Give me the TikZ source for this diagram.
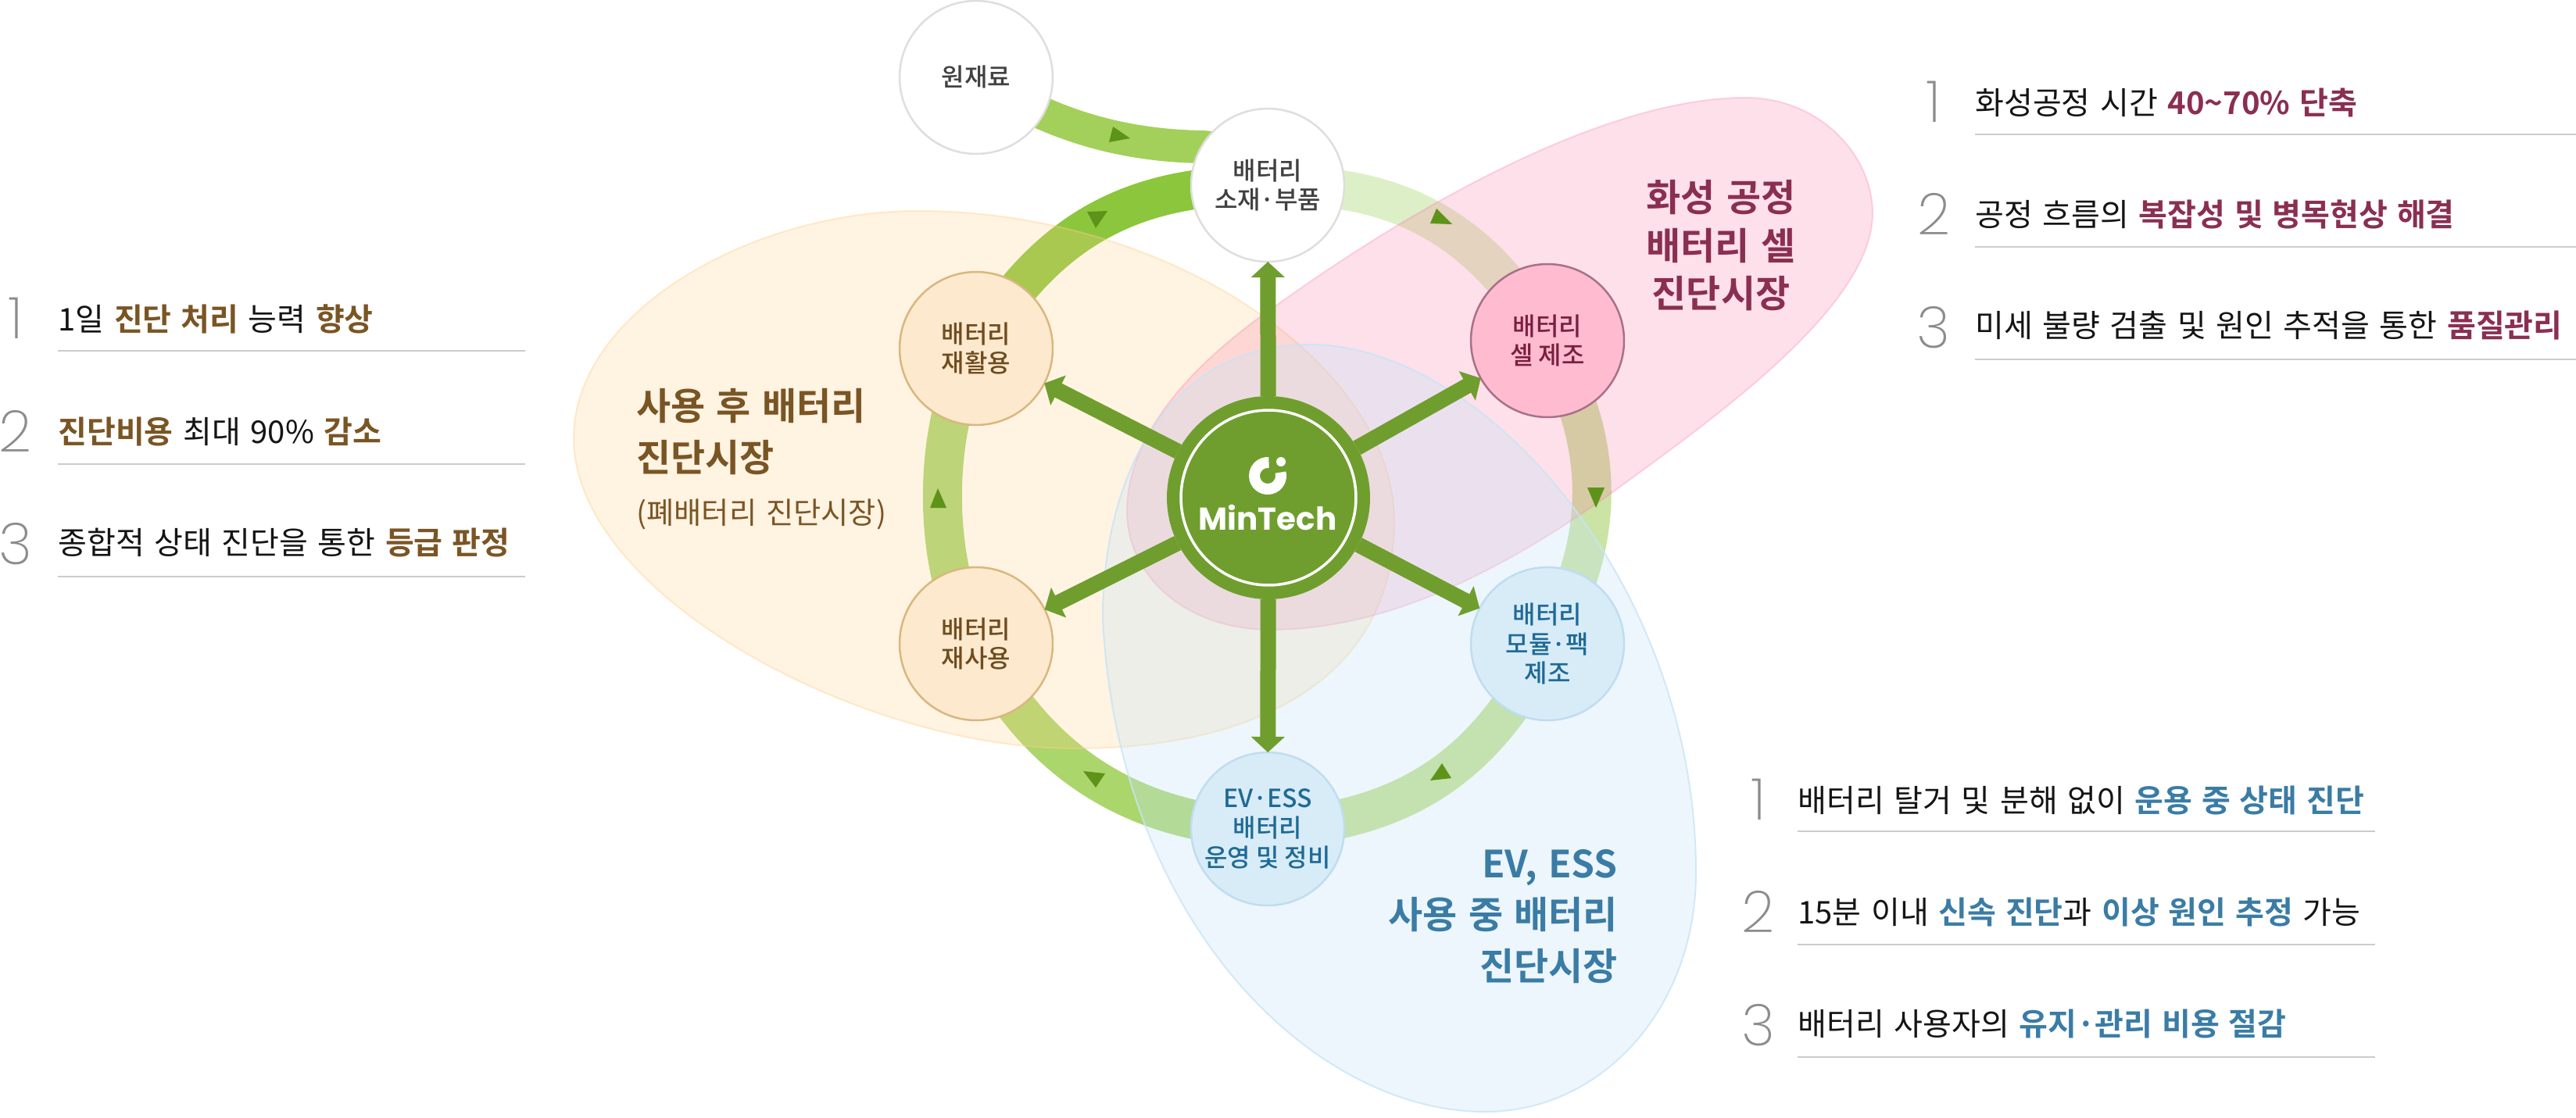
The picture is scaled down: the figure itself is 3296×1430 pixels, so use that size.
\documentclass[tikz,border=0pt]{standalone}
\usepackage{fontspec}
\usetikzlibrary{arrows.meta}
\setmainfont{Noto Sans CJK KR}
\newfontfamily\kreg{Noto Sans CJK KR}
\newfontfamily\kmed{Noto Sans CJK KR Medium}
\newfontfamily\khl{Noto Sans CJK KR Bold}
\newfontfamily\kbold[WordSpace=1.3]{Noto Sans CJK KR Bold}
\newfontfamily\ksub[WordSpace=1.4]{Noto Sans CJK KR}
\newfontfamily\numf{Poppins ExtraLight}
\newfontfamily\logof{Poppins}[BoldFont=* Bold]
\definecolor{cbrown}{HTML}{7A5524}
\definecolor{cmaroon}{HTML}{8A2F50}
\definecolor{cblue}{HTML}{3A7CA5}
\definecolor{cspoke}{HTML}{6F9E2E}
\definecolor{ctri}{HTML}{5E9319}
\newcommand\hb[1]{{\color{cbrown}\khl #1}}
\newcommand\hm[1]{{\color{cmaroon}\khl #1}}
\newcommand\hc[1]{{\color{cblue}\khl #1}}
\pgfdeclarelayer{ringl}
\pgfdeclarelayer{blobl}
\pgfsetlayers{ringl,blobl,main}
\definecolor{nOf}{HTML}{FDE9CE}\definecolor{nOd}{HTML}{D9B77F}
\definecolor{nPf}{HTML}{FFBCD0}\definecolor{nPd}{HTML}{A8708A}\definecolor{nPt}{HTML}{7A1F40}
\definecolor{nBf}{HTML}{D8ECF8}\definecolor{nBd}{HTML}{BFDDF0}\definecolor{nBt}{HTML}{1F6A96}
\definecolor{feedc}{HTML}{A3D05A}
\definecolor{rTL}{HTML}{8CC63C}\definecolor{rL}{HTML}{A7D774}\definecolor{rBL}{HTML}{ABD66B}
\definecolor{rBR}{HTML}{C2E28F}\definecolor{rR}{HTML}{CBE3A4}\definecolor{rTR}{HTML}{DDEFC6}
\definecolor{bO}{HTML}{FFCF8B}\definecolor{bP}{HTML}{F783AB}\definecolor{bB}{HTML}{C8E4F6}
\tikzset{
  hub/.style={circle,inner sep=0pt,outer sep=0pt,minimum size=3.92cm,line width=.05cm,align=center,
    font=\kmed\fontsize{18.2}{21.6}\selectfont},
  neutral/.style={hub,fill=white,draw=black!13,text=black!75},
  orangenode/.style={hub,fill=nOf,draw=nOd,text=cbrown!90!black},
  pinknode/.style={hub,fill=nPf,draw=nPd,text=nPt},
  bluenode/.style={hub,fill=nBf,draw=nBd,text=nBt},
  ringseg/.style={line width=1cm},
  feedseg/.style={line width=.84cm,color=feedc},
  blob/.style={line width=.04cm,fill opacity=.25,draw opacity=.4},
  spoke/.style={draw=cspoke,line width=.4cm,-{Triangle[width=.84cm,length=.4cm]}},
  tri/.style={fill=ctri},
  rowt/.style={anchor=base west,inner sep=0pt,text=black!92,font=\kreg\fontsize{22.8}{28}\selectfont},
  rule/.style={draw=black!20,line width=.05cm},
  numt/.style={anchor=base,inner sep=0pt,text=black!45,font=\numf\fontsize{42}{42}\selectfont},
  big/.style={inner sep=0pt,font=\kbold\fontsize{27.3}{33}\selectfont},
}
\begin{document}
\begin{tikzpicture}[x=0.02cm,y=-0.02cm]
\useasboundingbox (0,0) rectangle (3296,1430);
% nodes
\node[neutral] (raw) at (1249,99) {원재료};
\node[neutral] (mat) at (1622,237) {배터리\\소재·부품};
\node[orangenode] (rec) at (1249,446) {배터리\\재활용};
\node[orangenode] (reu) at (1249,824) {배터리\\재사용};
\node[pinknode] (cel) at (1980,436) {배터리\\셀 제조};
\node[bluenode] (mod) at (1980,824) {배터리\\모듈·팩\\제조};
\node[bluenode] (evs) at (1622,1061) {EV·ESS\\배터리\\운영 및 정비};
\node[circle,fill=cspoke,minimum size=5.2cm,inner sep=0pt,outer sep=0pt] (mt) at (1623,637) {};
\node[circle,draw=white,line width=.07cm,minimum size=4.48cm,inner sep=0pt] (mtring) at (mt) {};
% ring
\begin{pgfonlayer}{ringl}
\draw[feedseg] (raw.center) .. controls (1340,158) and (1430,186) .. (1537,188) .. controls (1570,189) and (1600,205) .. (mat.center);
\draw[ringseg,rTR] (mat.center) to[bend left=30,looseness=1.05] (cel.center);
\draw[ringseg,rR] (cel.center) to[bend left=30,looseness=1] (mod.center);
\draw[ringseg,rBR] (mod.center) to[bend left=30,looseness=1.05] (evs.center);
\draw[ringseg,rBL] (evs.center) to[bend left=30,looseness=1] (reu.center);
\draw[ringseg,rL] (reu.center) to[bend left=30,looseness=.78] (rec.center);
\draw[ringseg,rTL] (rec.center) to[bend left=30,looseness=1.05] (mat.center);
\end{pgfonlayer}
% blobs
\begin{pgfonlayer}{blobl}
\filldraw[blob,fill=bO,draw=bO] (734,561) .. controls (734,400) and (960,270) .. (1175,270)
 .. controls (1500,270) and (1784,470) .. (1784,667)
 .. controls (1784,860) and (1620,958) .. (1375,958)
 .. controls (1100,958) and (734,760) .. (734,561) -- cycle;
\filldraw[blob,fill=bP,draw=bP,draw opacity=.3] (2233,125) .. controls (2330,125) and (2396,200) .. (2396,273)
 .. controls (2396,390) and (2200,530) .. (2077,620)
 .. controls (1920,735) and (1770,806) .. (1626,806)
 .. controls (1520,806) and (1442,740) .. (1442,654)
 .. controls (1442,560) and (1520,470) .. (1626,396)
 .. controls (1800,270) and (2050,125) .. (2233,125) -- cycle;
\filldraw[blob,fill=bB,draw=bB,fill opacity=.33,draw opacity=.8] (1411,792) .. controls (1411,600) and (1500,441) .. (1675,441)
 .. controls (1900,441) and (2170,750) .. (2170,1117)
 .. controls (2170,1290) and (2050,1423) .. (1900,1423)
 .. controls (1680,1423) and (1430,1180) .. (1411,792) -- cycle;
\end{pgfonlayer}
% spokes
\draw[spoke] (mt) -- (mat);
\draw[spoke] (mt) -- (evs);
\draw[spoke] (mt) -- (rec);
\draw[spoke] (mt) -- (reu);
\draw[spoke] (mt) -- (cel);
\draw[spoke] (mt) -- (mod);
% ring triangles
\fill[tri] (1424,162) -- (1446,177) -- (1419,182) -- cycle;
\fill[tri] (1391,271) -- (1417,270) -- (1402,292) -- cycle;
\fill[tri] (1838,267) -- (1830,286) -- (1858,287) -- cycle;
\fill[tri] (2031,624) -- (2053,624) -- (2042,650) -- cycle;
\fill[tri] (1845,977) -- (1830,999) -- (1857,996) -- cycle;
\fill[tri] (1386,987) -- (1414,990) -- (1402,1008) -- cycle;
\fill[tri] (1200,625) -- (1190,650) -- (1211,650) -- cycle;
% logo
\draw[white,line width=.28cm] (1622,609) ++(-15:17) arc[start angle=-15,end angle=275,radius=17];
\fill[white] (1639,591) circle[radius=6];
\node[inner sep=0pt,anchor=base,text=white,font=\logof\bfseries\fontsize{23}{23}\selectfont] (mtxt) at (1622,678) {MinTech};
% big labels
\node[big,anchor=base west,text=cbrown] (o1) at (814,537) {사용 후 배터리};
\node[big,anchor=base west,text=cbrown] (o2) at (814,603) {진단시장};
\node[anchor=base west,inner sep=0pt,text=cbrown,font=\ksub\fontsize{21.8}{26}\selectfont] (o3) at (814,670) {(폐배터리 진단시장)};
\node[big,anchor=base,text=cmaroon] (p1) at (2202,270) {화성 공정};
\node[big,anchor=base,text=cmaroon] (p2) at (2202,332) {배터리 셀};
\node[big,anchor=base,text=cmaroon] (p3) at (2202,393) {진단시장};
\node[big,anchor=base east,text=cblue] (b1) at (2070,1123) {EV, ESS};
\node[big,anchor=base east,text=cblue] (b2) at (2070,1188) {사용 중 배터리};
\node[big,anchor=base east,text=cblue] (b3) at (2070,1254) {진단시장};
% left list
\node[numt] (ln1) at (20,433) {1};
\node[numt] (ln2) at (20,578) {2};
\node[numt] (ln3) at (20,722) {3};
\node[rowt] (lt1) at (74,423) {1일 \hb{진단 처리} 능력 \hb{향상}};
\node[rowt] (lt2) at (74,567) {\hb{진단비용} 최대 90\% \hb{감소}};
\node[rowt] (lt3) at (74,709) {종합적 상태 진단을 통한 \hb{등급 판정}};
\coordinate (la1) at (74,449); \coordinate (lb1) at (672,449);
\coordinate (la2) at (74,594); \coordinate (lb2) at (672,594);
\coordinate (la3) at (74,738); \coordinate (lb3) at (672,738);
\draw[rule] (la1) -- (lb1); \draw[rule] (la2) -- (lb2); \draw[rule] (la3) -- (lb3);
% top right list
\node[numt] (tn1) at (2474,156) {1};
\node[numt] (tn2) at (2474,300) {2};
\node[numt] (tn3) at (2474,445) {3};
\node[rowt] (tt1) at (2527,146) {화성공정 시간 \hm{40\textasciitilde70\% 단축}};
\node[rowt] (tt2) at (2527,289) {공정 흐름의 \hm{복잡성 및 병목현상 해결}};
\node[rowt] (tt3) at (2527,431) {미세 불량 검출 및 원인 추적을 통한 \hm{품질관리}};
\coordinate (ta1) at (2527,172); \coordinate (tb1) at (3296,172);
\coordinate (ta2) at (2527,316); \coordinate (tb2) at (3296,316);
\coordinate (ta3) at (2527,460); \coordinate (tb3) at (3296,460);
\draw[rule] (ta1) -- (tb1); \draw[rule] (ta2) -- (tb2); \draw[rule] (ta3) -- (tb3);
% bottom right list
\node[numt] (bn1) at (2250,1049) {1};
\node[numt] (bn2) at (2250,1193) {2};
\node[numt] (bn3) at (2250,1338) {3};
\node[rowt] (bt1) at (2300,1039) {배터리 탈거 및 분해 없이 \hc{운용 중 상태 진단}};
\node[rowt] (bt2) at (2300,1182) {15분 이내 \hc{신속 진단}과 \hc{이상 원인 추정} 가능};
\node[rowt] (bt3) at (2300,1325) {배터리 사용자의 \hc{유지·관리 비용 절감}};
\coordinate (ba1) at (2300,1064); \coordinate (bb1) at (3039,1064);
\coordinate (ba2) at (2300,1209); \coordinate (bb2) at (3039,1209);
\coordinate (ba3) at (2300,1353); \coordinate (bb3) at (3039,1353);
\draw[rule] (ba1) -- (bb1); \draw[rule] (ba2) -- (bb2); \draw[rule] (ba3) -- (bb3);
\end{tikzpicture}
\end{document}
